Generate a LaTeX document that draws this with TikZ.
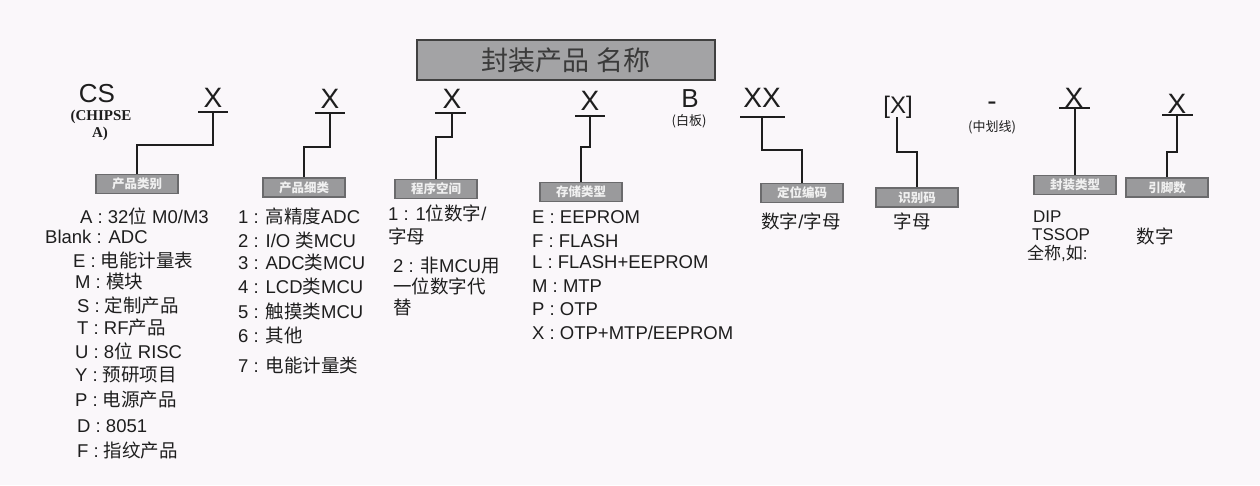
\documentclass[tikz,border=0pt]{standalone}
\usepackage{fontspec}
\setmainfont{Liberation Sans}
\newfontfamily\cjk{Noto Sans CJK SC}
\newfontfamily\tms{Liberation Serif}
\newcommand\zh[1]{{\cjk #1}}
\definecolor{bgcol}{HTML}{FAF7FA}
\definecolor{ink}{HTML}{1E1E1E}
\definecolor{tagfill}{HTML}{9A9A9C}
\definecolor{tagline}{HTML}{6A6A6C}
\definecolor{tagtext}{HTML}{F0F0F0}
\definecolor{titlefill}{HTML}{A3A3A5}
\definecolor{titleline}{HTML}{404040}
\definecolor{titletext}{HTML}{3A3A3A}
\begin{document}
\begin{tikzpicture}[x=1pt,y=-1pt,
  big/.style={font=\fontsize{28}{30}\selectfont, text=ink, inner sep=0pt, anchor=base},
  lst/.style={font=\fontsize{18.5}{20}\selectfont, text=ink, inner sep=0pt, anchor=base west},
  tight/.style={font=\fontsize{17}{18}\selectfont, text=ink, inner sep=0pt, anchor=base west},
  note/.style={font=\cjk\fontsize{13}{14}\selectfont, text=ink, inner sep=0pt},
  tag/.style={draw=tagline, fill=tagfill, line width=1.2pt, minimum width=82pt, minimum height=19pt, inner sep=0pt, font=\cjk\bfseries\fontsize{12.5}{13}\selectfont, text=tagtext},
  conn/.style={draw=ink, line width=1.8pt},
  ul/.style={draw=ink, line width=1.8pt}]
\fill[bgcol] (0,0) rectangle (1260,485);
\useasboundingbox (0,0) rectangle (1260,485);

% title
\node[draw=titleline, line width=1.2pt, fill=titlefill, minimum width=298pt, minimum height=40pt, inner sep=0pt,
      font=\cjk\fontsize{27}{28}\selectfont, text=titletext] (title) at (566,60) {封装产品 名称};

% top row
\node[font=\fontsize{26}{28}\selectfont, text=ink, inner sep=0pt, anchor=base] (cs) at (97,102) {CS};
\node[font=\tms\bfseries\fontsize{15}{16}\selectfont, text=ink, inner sep=0pt, anchor=base] (chip1) at (101,120) {(CHIPSE};
\node[font=\tms\bfseries\fontsize{15}{16}\selectfont, text=ink, inner sep=0pt, anchor=base] (chip2) at (100,137) {A)};

\node[big] (x1) at (213,107) {X};
\node[big] (x2) at (330,108) {X};
\node[big] (x3) at (452,108) {X};
\node[big] (x4) at (590,110) {X};
\node[big, font=\fontsize{26}{28}\selectfont] (bb) at (690,107) {B};
\node[note] (baiban) at (689,121) {(白板)};
\node[big] (xx) at (762,107) {XX};
\node[big, font=\fontsize{24}{26}\selectfont] (bx) at (898,113) {[X]};
\node[big] (dash) at (992,110) {-};
\node[note] (zhx) at (992,127) {(中划线)};
\node[big] (x7) at (1074,107) {X};
\node[big] (x8) at (1177,113) {X};

% underlines
\draw[ul] (198,112) -- (228,112);
\draw[ul] (315,113) -- (345,113);
\draw[ul] (435,113) -- (466,113);
\draw[ul] (575,116) -- (605,116);
\draw[ul] (740,117) -- (785,117);
\draw[ul] (1059,108) -- (1090,108);
\draw[ul] (1162,115) -- (1193,115);

% tags
\node[tag] (b1) at (137,184) {产品类别};
\node[tag] (b2) at (304,187.5) {产品细类};
\node[tag] (b3) at (436,189) {程序空间};
\node[tag] (b4) at (581,192) {存储类型};
\node[tag] (b5) at (802,193) {定位编码};
\node[tag] (b6) at (917,197.5) {识别码};
\node[tag] (b7) at (1075,185) {封装类型};
\node[tag] (b8) at (1167,187.5) {引脚数};

% connectors
\coordinate (u1) at (213,112); \coordinate (e1) at (213,145);
\coordinate (u2) at (330,113); \coordinate (e2) at (330,147);
\coordinate (u3) at (452,113); \coordinate (e3) at (452,137);
\coordinate (u4) at (590,116); \coordinate (e4) at (590,147);
\coordinate (u5) at (762,117); \coordinate (e5) at (762,150);
\coordinate (u6) at (897,117); \coordinate (e6) at (897,152);
\coordinate (u7) at (1075,108);
\coordinate (u8) at (1177,115); \coordinate (e8) at (1177,152);
\draw[conn] (u1) -- (e1) -| (b1.north);
\draw[conn] (u2) -- (e2) -| (b2.north);
\draw[conn] (u3) -- (e3) -| (b3.north);
\draw[conn] (u4) -- (e4) -| (b4.north);
\draw[conn] (u5) -- (e5) -| (b5.north);
\draw[conn] (u6) -- (e6) -| (b6.north);
\draw[conn] (u7) -- (b7.north);
\draw[conn] (u8) -- (e8) -| (b8.north);

% column 1
\node[lst] (c1a) at (80,223) {A : 32\zh{位} M0/M3};
\node[lst] (c1b) at (45,243) {Blank : ADC};
\node[lst] (c1c) at (73,267) {E : \zh{电能计量表}};
\node[lst] (c1d) at (75,288) {M : \zh{模块}};
\node[lst] (c1e) at (77,312) {S : \zh{定制产品}};
\node[lst] (c1f) at (77,334) {T : RF\zh{产品}};
\node[lst] (c1g) at (75,358) {U : 8\zh{位} RISC};
\node[lst] (c1h) at (75,381) {Y : \zh{预研项目}};
\node[lst] (c1i) at (75,406) {P : \zh{电源产品}};
\node[lst] (c1j) at (77,432) {D : 8051};
\node[lst] (c1k) at (77,457) {F : \zh{指纹产品}};

% column 2
\node[lst] (c2a) at (238,223) {1 : \zh{高精度}ADC};
\node[lst] (c2b) at (238,247) {2 : I/O \zh{类}MCU};
\node[lst] (c2c) at (238,269) {3 : ADC\zh{类}MCU};
\node[lst] (c2d) at (238,293) {4 : LCD\zh{类}MCU};
\node[lst] (c2e) at (238,318) {5 : \zh{触摸类}MCU};
\node[lst] (c2f) at (238,342) {6 : \zh{其他}};
\node[lst] (c2g) at (238,372) {7 : \zh{电能计量类}};

% column 3
\node[lst] (c3a) at (388,220) {1 : 1\zh{位数字}/};
\node[lst] (c3b) at (388,243) {\zh{字母}};
\node[lst] (c3c) at (393,272) {2 : \zh{非}MCU\zh{用}};
\node[lst] (c3d) at (393,293) {\zh{一位数字代}};
\node[lst] (c3e) at (393,314) {\zh{替}};

% column 4
\node[lst] (c4a) at (532,223) {E : EEPROM};
\node[lst] (c4b) at (532,247) {F : FLASH};
\node[lst] (c4c) at (532,268) {L : FLASH+EEPROM};
\node[lst] (c4d) at (532,292) {M : MTP};
\node[lst] (c4e) at (532,315) {P : OTP};
\node[lst] (c4f) at (532,339) {X : OTP+MTP/EEPROM};

% other columns
\node[lst, anchor=base] (c5) at (801,228) {\zh{数字}/\zh{字母}};
\node[lst, anchor=base] (c6) at (912,228) {\zh{字母}};
\node[tight] (c7a) at (1033,222) {DIP};
\node[tight] (c7b) at (1032,240) {TSSOP};
\node[tight] (c7c) at (1027,259) {\zh{全称},\zh{如}:};
\node[lst, anchor=base] (c8) at (1155,243) {\zh{数字}};
\end{tikzpicture}
\end{document}
